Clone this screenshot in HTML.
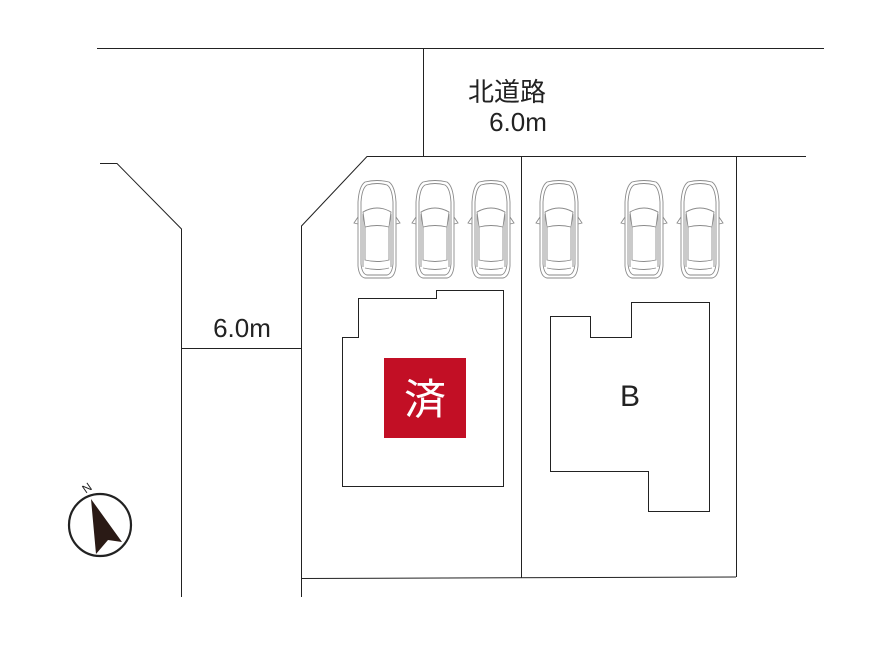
<!DOCTYPE html>
<html><head><meta charset="utf-8"><style>html,body{margin:0;padding:0;background:#fff}</style></head>
<body>
<svg width="891" height="645" viewBox="0 0 891 645" xmlns="http://www.w3.org/2000/svg">
<defs>
<g id="car" fill="none" stroke="#8a8a8a" stroke-width="0.9">
<path d="M-12,0 Q0,-3 12,0 Q18,4 19,20 L19,84 Q18,95 12,96 L-12,96 Q-18,95 -19,84 L-19,20 Q-18,4 -12,0 Z"/>
<path d="M-10,3 Q0,0 10,3 Q15,6 16,20 L16,82 Q15,92 10,93 L-10,93 Q-15,92 -16,82 L-16,20 Q-15,6 -10,3 Z"/>
<path d="M-14,30 Q0,22 14,30 L12,45 Q0,42 -12,45 Z"/>
<path d="M-12,45 L-12,78 Q0,81 12,78 L12,45"/>
<path d="M-14,32 L-14,85 M14,32 L14,85"/>
<path d="M-19,35 L-23,41 L-19,42 M19,35 L23,41 L19,42"/>
<path d="M-12,86 Q0,89 12,86"/>
</g>
</defs>
<g fill="none" stroke="#222" stroke-width="1">
<line x1="97" y1="48.5" x2="824" y2="48.5"/>
<line x1="423.5" y1="48" x2="423.5" y2="156"/>
<polyline points="301.5,597 301.5,226 367,156.5 806,156.5"/>
<line x1="521.5" y1="156" x2="521.5" y2="578"/>
<line x1="736.5" y1="156" x2="736.5" y2="577"/>
<line x1="301" y1="578.5" x2="736" y2="577"/>
<polyline points="100,163.5 117,163.5 181.5,229 181.5,597"/>
<line x1="181" y1="348.5" x2="301" y2="348.5"/>
<polygon points="358.5,298.5 436.5,298.5 436.5,290.5 503.5,290.5 503.5,486.5 342.5,486.5 342.5,337.5 358.5,337.5"/>
<polygon points="550.5,316.5 590.5,316.5 590.5,337.5 631.5,337.5 631.5,302.5 709.5,302.5 709.5,511.5 648.5,511.5 648.5,471.5 550.5,471.5"/>
</g>
<use href="#car" x="377" y="182"/>
<use href="#car" x="435" y="182"/>
<use href="#car" x="491" y="182"/>
<use href="#car" x="559" y="182"/>
<use href="#car" x="644" y="182"/>
<use href="#car" x="700" y="182"/>
<rect x="384" y="358" width="82" height="80" fill="#c20f25"/>
<text x="425" y="414" font-family="Liberation Sans, Noto Sans CJK JP, sans-serif" font-size="42" fill="#fff" text-anchor="middle">済</text>
<text x="630" y="406" font-family="Liberation Sans, sans-serif" font-size="30" fill="#222" text-anchor="middle">B</text>
<text x="507" y="101" font-family="Liberation Sans, Noto Sans CJK JP, sans-serif" font-size="26" fill="#222" text-anchor="middle">北道路</text>
<text x="518" y="131" font-family="Liberation Sans, sans-serif" font-size="26" fill="#222" text-anchor="middle">6.0m</text>
<text x="242" y="337" font-family="Liberation Sans, sans-serif" font-size="26" fill="#222" text-anchor="middle">6.0m</text>
<circle cx="100" cy="525" r="31" fill="none" stroke="#222" stroke-width="2.2"/>
<polygon points="91,499 122,542 108,540 96,554" fill="#2a1a15"/>
<text x="87" y="492" font-family="Liberation Sans, sans-serif" font-size="12" fill="#222" text-anchor="middle" transform="rotate(-35 87 488)">N</text>
</svg>
</body></html>
